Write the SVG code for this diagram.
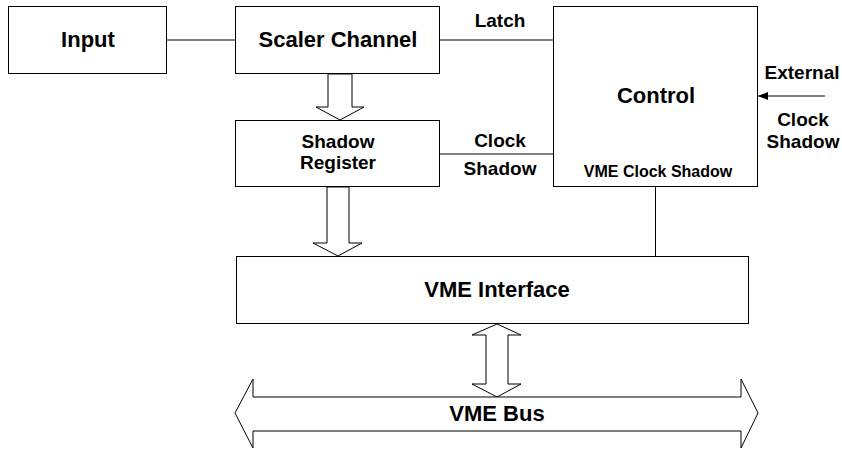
<svg xmlns="http://www.w3.org/2000/svg" width="842" height="450" viewBox="0 0 842 450">
<defs>
<style>
.box{fill:#fff;stroke:#000;stroke-width:1}
.ln{fill:none;stroke:#000;stroke-width:1}
.blk{fill:#fff;stroke:#000;stroke-width:1;stroke-linejoin:miter}
text{font-family:"Liberation Sans",Arial,sans-serif;font-weight:bold;fill:#000;text-anchor:middle}
.big{font-size:22px}
.sm{font-size:19px}
.xs{font-size:16px}
</style>
<marker id="ah" viewBox="0 0 10 8" refX="10" refY="4" markerWidth="10" markerHeight="8" markerUnits="userSpaceOnUse" orient="auto">
<path d="M0,0 L10,4 L0,8 Z" fill="#000"/>
</marker>
</defs>
<rect width="842" height="450" fill="#fff"/>
<g id="connectors">
<line class="ln" x1="167" y1="40" x2="235" y2="40"/>
<line class="ln" x1="440" y1="40" x2="553" y2="40"/>
<line class="ln" x1="440" y1="154" x2="553" y2="154"/>
<line class="ln" x1="655.5" y1="187" x2="655.5" y2="256"/>
<line class="ln" x1="825" y1="96" x2="758" y2="96" marker-end="url(#ah)"/>
<polygon class="blk" points="328,74 328,107 316,107 340,120 364,107 352,107 352,74"/>
<polygon class="blk" points="327,187 327,243 313,243 338,256 362,243 349,243 349,187"/>
<polygon class="blk" points="497,324 472,335 486,335 486,384 472,384 497,397 521,384 508,384 508,335 521,335"/>
<text class="sm" x="500" y="27">Latch</text>
<text class="sm" x="500" y="147">Clock</text>
<text class="sm" x="500" y="175">Shadow</text>
<text class="sm" x="802" y="79">External</text>
<text class="sm" x="803" y="126">Clock</text>
<text class="sm" x="803" y="148">Shadow</text>
</g>
<g id="input">
<rect class="box" x="8.5" y="6.5" width="158" height="67"/>
<text class="big" x="88" y="47">Input</text>
</g>
<g id="scaler">
<rect class="box" x="235.5" y="6.5" width="204" height="67"/>
<text class="big" x="338" y="47">Scaler Channel</text>
</g>
<g id="shadow">
<rect class="box" x="235.5" y="120.5" width="204" height="66"/>
<text class="sm" x="338" y="148">Shadow</text>
<text class="sm" x="338" y="169">Register</text>
</g>
<g id="control">
<rect class="box" x="553.5" y="6.5" width="204" height="180"/>
<text class="big" x="656" y="103">Control</text>
<text class="xs" x="658" y="177">VME Clock Shadow</text>
</g>
<g id="vmeif">
<rect class="box" x="236.5" y="256.5" width="512" height="67"/>
<text class="big" x="497" y="297">VME Interface</text>
</g>
<g id="vmebus">
<polygon class="blk" points="235,413 253,379 253,397 741,397 741,379 758,413 741,448 741,431 253,431 253,448"/>
<text class="big" x="497" y="421">VME Bus</text>
</g>
</svg>
